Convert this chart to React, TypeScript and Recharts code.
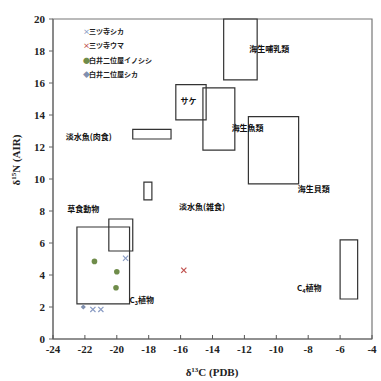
import React from "react";
import {
  ScatterChart,
  Scatter,
  XAxis,
  YAxis,
  ReferenceArea,
} from "recharts";

// δ13C / δ15N ranges of reference food groups (boxes)
const boxes = [
  { name: "草食動物", x1: -22.5, x2: -19.2, y1: 2.2, y2: 7.0 },
  { name: "C3植物", x1: -20.5, x2: -19.0, y1: 5.5, y2: 7.5 },
  { name: "淡水魚(雑食)", x1: -18.3, x2: -17.8, y1: 8.7, y2: 9.8 },
  { name: "淡水魚(肉食)", x1: -19.0, x2: -16.6, y1: 12.5, y2: 13.1 },
  { name: "サケ", x1: -16.3, x2: -14.4, y1: 13.7, y2: 15.9 },
  { name: "海生魚類", x1: -14.6, x2: -12.6, y1: 11.8, y2: 15.7 },
  { name: "海生哺乳類", x1: -13.3, x2: -11.2, y1: 16.2, y2: 20 },
  { name: "海生貝類", x1: -11.75, x2: -8.6, y1: 9.7, y2: 13.9 },
  { name: "C4植物", x1: -6.0, x2: -4.9, y1: 2.5, y2: 6.2 },
];

const groupLabels = [
  { x: -11.7, y: 18.1, text: "海生哺乳類" },
  { x: -16.0, y: 14.9, text: "サケ" },
  { x: -12.8, y: 13.2, text: "海生魚類" },
  { x: -8.65, y: 9.4, text: "海生貝類" },
  { x: -23.2, y: 12.6, text: "淡水魚(肉食)" },
  { x: -16.1, y: 8.25, text: "淡水魚(雑食)" },
  { x: -23.1, y: 8.1, text: "草食動物" },
  { x: -19.2, y: 2.45, text: "C3植物", sub: "3" },
  { x: -8.7, y: 3.2, text: "C4植物", sub: "4" },
];

const mitsuderaShika = [
  { x: -21.5, y: 1.85 },
  { x: -21.0, y: 1.85 },
  { x: -19.45, y: 5.05 },
];
const mitsuderaUma = [{ x: -15.8, y: 4.3 }];
const shiraiInoshishi = [
  { x: -21.4, y: 4.85 },
  { x: -20.0, y: 4.2 },
  { x: -20.05, y: 3.2 },
];
const shiraiShika = [{ x: -22.1, y: 2.0 }];

const xTicks = [-24, -22, -20, -18, -16, -14, -12, -10, -8, -6, -4];
const yTicks = [0, 2, 4, 6, 8, 10, 12, 14, 16, 18, 20];

const seriesInfo = [
  { name: "三ツ寺シカ", color: "#8a9cc4", kind: "x" },
  { name: "三ツ寺ウマ", color: "#c0504d", kind: "x" },
  { name: "白井二位屋イノシシ", color: "#6f8c4a", kind: "circle" },
  { name: "白井二位屋シカ", color: "#8090b0", kind: "diamond" },
];

const serif = "'Liberation Serif', 'DejaVu Serif', serif";
const jp = "'Noto Sans CJK JP', sans-serif";

function XMark(color: string) {
  return (props: any) => {
    const { cx, cy } = props;
    const s = 2.6;
    return (
      <g stroke={color} strokeWidth={1.2}>
        <line x1={cx - s} y1={cy - s} x2={cx + s} y2={cy + s} />
        <line x1={cx - s} y1={cy + s} x2={cx + s} y2={cy - s} />
      </g>
    );
  };
}

function Dot(color: string) {
  return (props: any) => <circle cx={props.cx} cy={props.cy} r={2.8} fill={color} />;
}

function Diamond(color: string) {
  return (props: any) => {
    const { cx, cy } = props;
    const s = 2.6;
    return (
      <polygon
        points={`${cx},${cy - s} ${cx + s},${cy} ${cx},${cy + s} ${cx - s},${cy}`}
        fill={color}
      />
    );
  };
}

function GroupLabel(props: any) {
  const { cx, cy, payload } = props;
  const p = payload;
  if (p.sub) {
    return (
      <text x={cx} y={cy + 3} fontSize={8} fontWeight="bold" fontFamily={jp} fill="#111">
        C
        <tspan fontSize={5.5} dy={2}>
          {p.sub}
        </tspan>
        <tspan dy={-2}>{p.text.slice(2)}</tspan>
      </text>
    );
  }
  return (
    <text x={cx} y={cy + 3} fontSize={8} fontWeight="bold" fontFamily={jp} fill="#111">
      {p.text}
    </text>
  );
}

function XTick(props: any) {
  const { x, y, payload } = props;
  return (
    <g>
      <line x1={x} x2={x} y1={y - 10} y2={y - 14} stroke="#555" />
      <text x={x} y={y + 4} textAnchor="middle" fontSize={11} fontWeight="bold" fontFamily={serif} fill="#222">
        {payload.value}
      </text>
    </g>
  );
}

function YTick(props: any) {
  const { x, y, payload } = props;
  return (
    <text x={x} y={y + 4} textAnchor="end" fontSize={11} fontWeight="bold" fontFamily={serif} fill="#222">
      {payload.value}
    </text>
  );
}

function LegendBox() {
  return (
    <div
      style={{
        position: "absolute",
        left: 83,
        top: 24,
        fontFamily: jp,
        fontSize: 7,
        fontWeight: "bold",
        lineHeight: "14.3px",
        color: "#222",
      }}
    >
      {seriesInfo.map((s) => (
        <div key={s.name} style={{ display: "flex", alignItems: "center" }}>
          <span style={{ color: s.color, fontSize: 7, width: 6 }}>
            {s.kind === "x" ? "×" : s.kind === "circle" ? "●" : "◆"}
          </span>
          <span>{s.name}</span>
        </div>
      ))}
    </div>
  );
}

export default function App() {
  return (
    <div style={{ position: "absolute", left: 0, top: 0, width: 381, height: 381, background: "#fff" }}>
      <ScatterChart width={381} height={381} margin={{ top: 19, right: 9, bottom: 0, left: 0 }}>
        <XAxis
          type="number"
          dataKey="x"
          domain={[-24, -4]}
          ticks={xTicks}
          allowDataOverflow
          tick={<XTick />}
          tickSize={0}
          tickMargin={10}
          height={42}
          stroke="#666"
          label={{
            content: () => (
              <text x={212} y={376} textAnchor="middle" fontSize={11} fontWeight="bold" fontFamily={serif} fill="#222">
                δ<tspan fontSize={7} dy={-4}>13</tspan>
                <tspan dy={4}>C (PDB)</tspan>
              </text>
            ),
          }}
        />
        <YAxis
          type="number"
          dataKey="y"
          domain={[0, 20]}
          ticks={yTicks}
          allowDataOverflow
          tick={<YTick />}
          tickSize={4}
          tickMargin={4}
          width={53}
          stroke="#666"
          label={{
            content: () => (
              <text
                x={20}
                y={160}
                transform="rotate(-90 20 160)"
                textAnchor="middle"
                fontSize={11}
                fontWeight="bold"
                fontFamily={serif}
                fill="#222"
              >
                δ<tspan fontSize={7} dy={-4}>15</tspan>
                <tspan dy={4}>N (AIR)</tspan>
              </text>
            ),
          }}
        />
        <ReferenceArea x1={-24} x2={-4} y1={0} y2={20} fill="none" stroke="#777" strokeWidth={1.2} />
        {boxes.map((b) => (
          <ReferenceArea
            key={b.name}
            x1={b.x1}
            x2={b.x2}
            y1={b.y1}
            y2={b.y2}
            fill="none"
            fillOpacity={0}
            stroke="#333"
            strokeWidth={1.2}
          />
        ))}
        <Scatter data={groupLabels} shape={<GroupLabel />} isAnimationActive={false} legendType="none" />
        <Scatter name="三ツ寺シカ" data={mitsuderaShika} shape={XMark(seriesInfo[0].color)} isAnimationActive={false} />
        <Scatter name="三ツ寺ウマ" data={mitsuderaUma} shape={XMark(seriesInfo[1].color)} isAnimationActive={false} />
        <Scatter name="白井二位屋イノシシ" data={shiraiInoshishi} shape={Dot(seriesInfo[2].color)} isAnimationActive={false} />
        <Scatter name="白井二位屋シカ" data={shiraiShika} shape={Diamond(seriesInfo[3].color)} isAnimationActive={false} />
      </ScatterChart>
      <LegendBox />
    </div>
  );
}
